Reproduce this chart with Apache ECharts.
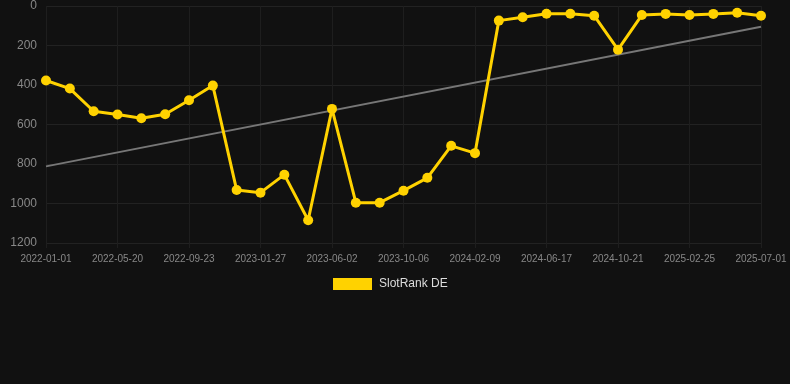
<!DOCTYPE html>
<html>
<head>
<meta charset="utf-8">
<script src="https://cdn.jsdelivr.net/npm/echarts@6/dist/echarts.min.js"></script>
<style>
html,body{margin:0;padding:0;background:#111111;}
#chart{width:790px;height:384px;}
</style>
</head>
<body>
<div id="chart"></div>
<script>
var categories = [
  '2022-01-01','2022-02-16','2022-04-04','2022-05-20','2022-07-01','2022-08-12',
  '2022-09-23','2022-11-04','2022-12-16','2023-01-27','2023-03-10','2023-04-21',
  '2023-06-02','2023-07-14','2023-08-25','2023-10-06','2023-11-17','2023-12-29',
  '2024-02-09','2024-03-22','2024-05-05','2024-06-17','2024-07-29','2024-09-09',
  '2024-10-21','2024-12-02','2025-01-14','2025-02-25','2025-04-08','2025-05-20',
  '2025-07-01'
];
var slotRankDE = [377, 418, 533, 549, 568, 548, 477, 403, 932, 945, 854, 1085,
  521, 996, 996, 935, 870, 708, 745, 74, 57, 39, 39, 49, 221, 46, 40, 46, 40, 34, 49];
var trendStart = 812;
var trendEnd = 105;
var yTicks = [0, 200, 400, 600, 800, 1000, 1200];

var trend = categories.map(function(_, i){
  if (i === 0) return trendStart;
  if (i === categories.length - 1) return trendEnd;
  return null;
});

var chart = echarts.init(document.getElementById('chart'));
chart.setOption({
  backgroundColor: '#111111',
  animation: false,
  grid: {left: 46, right: 29, top: 6, bottom: 141, containLabel: false},
  legend: {
    data: ['SlotRank DE'],
    top: 273,
    left: 328,
    itemWidth: 39,
    itemHeight: 12,
    itemGap: 10,
    icon: 'rect',
    textStyle: {color: '#dddddd', fontSize: 12, padding: [0, 0, 0, 2], fontFamily: 'Liberation Sans, Arial, sans-serif'}
  },
  xAxis: {
    type: 'category',
    data: categories,
    boundaryGap: false,
    axisLine: {show: false, onZero: false},
    axisTick: {show: true, interval: 2, length: 5, lineStyle: {color: '#1e1e1e'}},
    axisLabel: {interval: 2, color: '#888888', fontSize: 10, margin: 11, fontFamily: 'Liberation Sans, Arial, sans-serif'},
    splitLine: {show: true, interval: 2, lineStyle: {color: '#1e1e1e'}}
  },
  yAxis: {
    type: 'value',
    inverse: true,
    min: yTicks[0],
    max: yTicks[yTicks.length - 1],
    interval: 200,
    axisLine: {show: false},
    axisTick: {show: false},
    axisLabel: {color: '#888888', fontSize: 12, margin: 9, formatter: function(v){ return String(v); }, fontFamily: 'Liberation Sans, Arial, sans-serif'},
    splitLine: {lineStyle: {color: '#222222'}}
  },
  series: [
    {
      name: 'Trend',
      type: 'line',
      data: trend,
      connectNulls: true,
      symbol: 'none',
      lineStyle: {color: '#777777', width: 2},
      z: 1,
      silent: true
    },
    {
      name: 'SlotRank DE',
      type: 'line',
      data: slotRankDE,
      symbol: 'circle',
      symbolSize: 10,
      itemStyle: {color: '#FFD200'},
      lineStyle: {color: '#FFD200', width: 3},
      z: 2
    }
  ]
});
</script>
</body>
</html>
